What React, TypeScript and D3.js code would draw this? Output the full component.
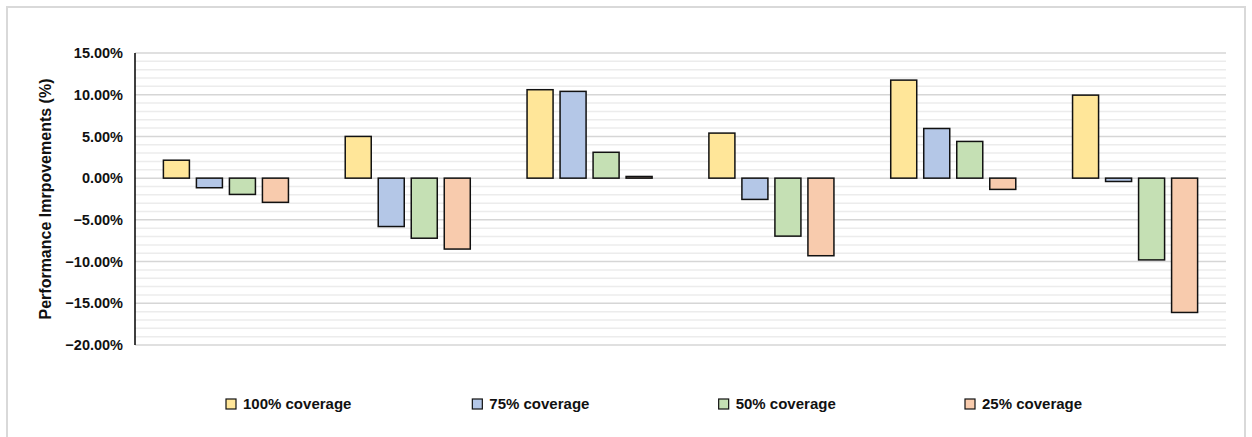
import React, { useEffect, useRef } from "react";
import * as d3 from "d3";

const groups = ["G1", "G2", "G3", "G4", "G5", "G6"];
const seriesNames = ["100% coverage", "75% coverage", "50% coverage", "25% coverage"];
const seriesColors = ["#FFE699", "#B4C7E7", "#C5E0B4", "#F8CBAD"];

// values in % per group
const cov100 = [2.15, 5.0, 10.6, 5.4, 11.75, 9.95];
const cov75 = [-1.15, -5.8, 10.4, -2.55, 5.95, -0.4];
const cov50 = [-1.95, -7.2, 3.1, -6.95, 4.4, -9.8];
const cov25 = [-2.9, -8.5, 0.2, -9.3, -1.35, -16.1];

const yTicks = [15, 10, 5, 0, -5, -10, -15, -20];

const W = 1252;
const H = 437;

const App: React.FC = () => {
	const ref = useRef<SVGSVGElement | null>(null);

	useEffect(() => {
		if (!ref.current) return;
		const svg = d3.select(ref.current);
		svg.selectAll("*").remove();

		const margin = { top: 53, right: 26, bottom: 92, left: 135 };
		const font = "'Liberation Sans', Arial, sans-serif";
		const series = [cov100, cov75, cov50, cov25];

		// outer border
		svg.append("rect")
			.attr("x", 7)
			.attr("y", 7)
			.attr("width", 1238)
			.attr("height", 445)
			.attr("fill", "#fff")
			.attr("stroke", "#d9d9d9")
			.attr("stroke-width", 2);

		const y = d3
			.scaleLinear()
			.domain([-20, 15])
			.range([H - margin.bottom, margin.top]);

		const x0 = d3
			.scaleBand()
			.domain(groups)
			.range([margin.left, W - margin.right])
			.padding(0);

		const x1 = d3
			.scaleBand()
			.domain(seriesNames)
			.range([0, x0.bandwidth()])
			.paddingInner(0.212)
			.paddingOuter(0.86);

		// minor grid
		const minor = d3.range(-20, 16, 1).filter((v) => v % 5 !== 0);
		svg.append("g")
			.selectAll("line")
			.data(minor)
			.enter()
			.append("line")
			.attr("x1", margin.left)
			.attr("x2", W - margin.right)
			.attr("y1", (d) => y(d))
			.attr("y2", (d) => y(d))
			.attr("stroke", "#ececec")
			.attr("stroke-width", 1.5);

		// major grid
		svg.append("g")
			.selectAll("line")
			.data(yTicks)
			.enter()
			.append("line")
			.attr("x1", margin.left)
			.attr("x2", W - margin.right)
			.attr("y1", (d) => y(d))
			.attr("y2", (d) => y(d))
			.attr("stroke", "#d6d6d6")
			.attr("stroke-width", 1.5);

		// y axis line
		svg.append("line")
			.attr("x1", margin.left)
			.attr("x2", margin.left)
			.attr("y1", y(15))
			.attr("y2", y(-20))
			.attr("stroke", "#000")
			.attr("stroke-width", 1.5);

		// tick labels
		svg.append("g")
			.selectAll("text")
			.data(yTicks)
			.enter()
			.append("text")
			.attr("x", margin.left - 12)
			.attr("y", (d) => y(d))
			.attr("dy", "0.35em")
			.attr("text-anchor", "end")
			.attr("font-family", font)
			.attr("font-weight", "bold")
			.attr("font-size", 14.5)
			.attr("fill", "#111")
			.text((d) => d3.format(".2f")(d) + "%");

		// y title
		svg.append("text")
			.attr("transform", `translate(51,${(y(15) + y(-20)) / 2}) rotate(-90)`)
			.attr("text-anchor", "middle")
			.attr("font-family", font)
			.attr("font-weight", "bold")
			.attr("font-size", 16)
			.attr("fill", "#111")
			.text("Performance Imrpovements (%)");

		// bars
		const g = svg.append("g");
		series.forEach((vals, si) => {
			g.selectAll(`.bar-${si}`)
				.data(vals)
				.enter()
				.append("rect")
				.attr("class", `bar-${si}`)
				.attr("x", (_, i) => (x0(groups[i]) || 0) + (x1(seriesNames[si]) || 0))
				.attr("y", (d) => y(Math.max(0, d)))
				.attr("width", x1.bandwidth())
				.attr("height", (d) => Math.abs(y(d) - y(0)))
				.attr("fill", seriesColors[si])
				.attr("stroke", "#111")
				.attr("stroke-width", 1.5);
		});

		// legend
		const legendX = d3
			.scalePoint()
			.domain(seriesNames)
			.range([226, 965]);
		const lg = svg
			.append("g")
			.selectAll("g")
			.data(seriesNames)
			.enter()
			.append("g")
			.attr("transform", (d) => `translate(${legendX(d)},404)`);
		lg.append("rect")
			.attr("x", 0)
			.attr("y", -5)
			.attr("width", 10)
			.attr("height", 10)
			.attr("fill", (_, i) => seriesColors[i])
			.attr("stroke", "#111")
			.attr("stroke-width", 1.2);
		lg.append("text")
			.attr("x", 17)
			.attr("y", 0)
			.attr("dy", "0.35em")
			.attr("font-family", font)
			.attr("font-weight", "bold")
			.attr("font-size", 15)
			.attr("fill", "#111")
			.text((d) => d);

		return () => {
			svg.selectAll("*").remove();
		};
	}, []);

	return (
		<svg
			ref={ref}
			width={W}
			height={H}
			style={{ position: "absolute", left: 0, top: 0, display: "block" }}
		/>
	);
};

export default App;
